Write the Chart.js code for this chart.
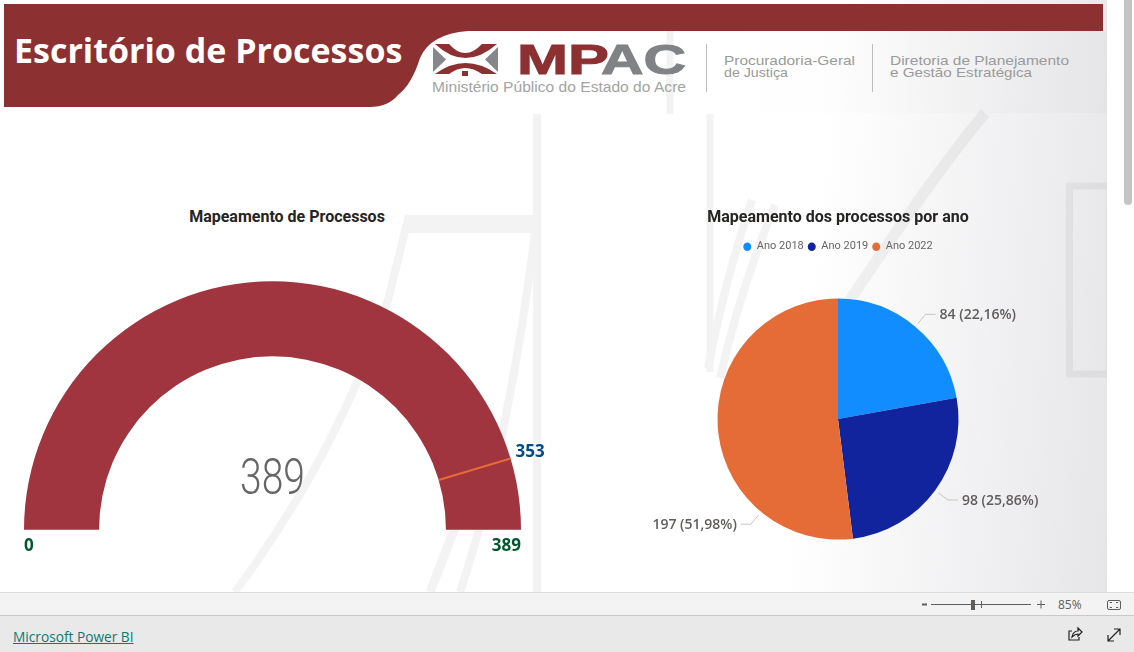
<!DOCTYPE html>
<html lang="pt-BR">
<head>
<meta charset="utf-8">
<title>Escritório de Processos</title>
<script src="https://cdn.jsdelivr.net/npm/chart.js"></script>
<style>
    html, body { margin: 0; padding: 0; width: 1134px; height: 652px; overflow: hidden; background: #fff; font-family: "Open Sans", sans-serif; }
    #report { position: absolute; left: 0; top: 0; width: 1107px; height: 592px; background: linear-gradient(95deg, #fff 72%, #e6e6e9 100%); overflow: hidden; }
    canvas { position: absolute; }
    .abs { position: absolute; }
</style>
</head>
<body>
<div id="report">
    <!-- faint watermark behind the visuals -->
    <svg class="abs" style="left:0;top:0" width="1107" height="592">
        <g fill="none" stroke="#000" opacity="0.045">
            <path d="M405 224 H539" stroke-width="18"/>
            <path d="M409 215 L388 300 Q340 450 235 592" stroke-width="8"/>
            <path d="M537 215 Q525 320 505 420 Q490 500 460 592" stroke-width="8"/>
            <path d="M456 525 L430 592" stroke-width="9"/>
            <path d="M537 114 V592" stroke-width="8"/>
            <path d="M710 114 V372" stroke-width="7"/>
            <path d="M670 30 V114" stroke-width="7"/>
            <path d="M752 200 Q725 280 708 368" stroke-width="8"/>
            <path d="M775 205 Q740 290 720 378" stroke-width="8"/>
            <path d="M985 113 Q930 180 850 300" stroke-width="11"/>
            <rect x="1069.5" y="186" width="40" height="188" stroke-width="7"/>
        </g>
    </svg>
    <div class="abs" style="left:700px;top:31px;width:407px;height:82px;background:linear-gradient(90deg, rgba(0,0,0,0), rgba(0,0,0,0.02))"></div>
    <!-- header band -->
    <svg class="abs" style="left:0;top:0" width="1107" height="112">
        <path d="M4 4 H1103 V31 H468 Q430 34 420 58 Q412 84 398 95 Q388 107 370 107 H4 Z" fill="#8c3032"/>
        <!-- logo -->
        <path d="M433 47 V72 L446 59.5 Z M498 47 V72 L485 59.5 Z" fill="#85878a"/>
        <path d="M435 44 H449 Q465 62 482 44 H497 Q465 72 435 44 Z" fill="#8c3032"/>
        <path d="M435 74 H449 Q465 62 482 74 H497 Q465 52 435 74 Z" fill="#8c3032"/>
        <rect x="462" y="71" width="6" height="5" fill="#8c3032"/>
        <text x="517" y="74" font-family="Liberation Sans" font-weight="700" font-size="42" fill="#8c3032" stroke="#8c3032" stroke-width="1" textLength="92" lengthAdjust="spacingAndGlyphs">MP</text>
        <text x="601" y="74" font-family="Liberation Sans" font-weight="700" font-size="42" fill="#808285" stroke="#808285" stroke-width="1" textLength="85" lengthAdjust="spacingAndGlyphs">AC</text>
        <text x="432" y="92" font-family="Liberation Sans" font-size="14" fill="#a3a3a3" textLength="254" lengthAdjust="spacingAndGlyphs">Ministério Público do Estado do Acre</text>
        <path d="M706.5 44 V92 M872.5 44 V92" stroke="#bdbdbd" stroke-width="1"/>
        <g font-family="Liberation Sans" font-size="13.5" fill="#9a9a9a">
            <text x="724" y="65" textLength="131" lengthAdjust="spacingAndGlyphs">Procuradoria-Geral</text>
            <text x="724" y="77" textLength="64" lengthAdjust="spacingAndGlyphs">de Justiça</text>
            <text x="890" y="65" textLength="179" lengthAdjust="spacingAndGlyphs">Diretoria de Planejamento</text>
            <text x="890" y="77" textLength="142" lengthAdjust="spacingAndGlyphs">e Gestão Estratégica</text>
        </g>
    </svg>
    <div class="abs" style="left:14px;top:27px;color:#fff;font:700 34px 'Open Sans';white-space:nowrap;">Escritório de Processos</div>

    <div class="abs" style="left:0;top:207px;width:574px;text-align:center;color:#252423;font:700 16px Roboto;">Mapeamento de Processos</div>
    <canvas id="gaugeChart" width="574" height="390" style="left:0;top:200px"></canvas>
    <canvas id="pieChart" width="540" height="390" style="left:568px;top:200px"></canvas>
</div>

<!-- scrollbar -->
<div class="abs" style="left:1124px;top:0;width:8px;height:205px;background:#c4c4c4;border-radius:0 0 4px 4px"></div>

<!-- power bi footer -->
<div class="abs" style="left:0;top:592px;width:1134px;height:22px;background:#f3f3f3;border-top:1px solid #dcdcdc;border-bottom:1px solid #c8c8c8;"></div>
<div class="abs" style="left:0;top:616px;width:1134px;height:36px;background:#e9e9e9"></div>
<a class="abs" href="#" style="left:13px;top:627px;color:#0a7a75;font:13.7px 'Open Sans';text-decoration:underline;white-space:nowrap">Microsoft Power BI</a>
<svg class="abs" style="left:900px;top:592px" width="234" height="60">
    <path d="M22 12.5 H27" stroke="#605e5c" stroke-width="2"/>
    <path d="M31 12.5 H131" stroke="#605e5c" stroke-width="1"/>
    <rect x="71" y="8" width="4" height="10" fill="#605e5c"/>
    <path d="M81.5 9 V16" stroke="#605e5c"/>
    <path d="M137 12.5 H145 M141 8.5 V16.5" stroke="#605e5c"/>
    <text x="158" y="17" font-family="Open Sans" font-size="12" fill="#605e5c">85%</text>
    <rect x="207.5" y="8.5" width="13" height="9" rx="1.5" fill="none" stroke="#605e5c"/>
    <path d="M210 11 V10.5 H212 M218 11 V10.5 H216 M210 15 V15.5 H212 M218 15 V15.5 H216" fill="none" stroke="#605e5c"/>
    <path d="M172 39 H169 V48 H179 V45 M172 45 Q173 39 178 39 V36 L182 40 L178 44 V42 Q175 42 172 45 Z" fill="none" stroke="#222" stroke-width="1.2"/>
    <path d="M208 49 L220 37 M214 37 H220 V43 M208 43 V49 H214" fill="none" stroke="#222" stroke-width="1.2"/>
</svg>

<script>
// values
const gaugeValue = [389];
const gaugeMin = [0];
const gaugeMax = [389];
const gaugeTarget = [353];

const pieLabels = ['Ano 2018', 'Ano 2019', 'Ano 2022'];
const pieValues = [84, 98, 197];
const pieColors = ['#118DFF', '#12239E', '#E66C37'];

// where on its slice each leader line starts (0 = start of slice, 1 = end)
const leaderAnchor = [0.5, 0.5, 0.25];

// Gauge texts and the target mark, placed from the arc the library computed
const gaugeDecor = {
    id: 'gaugeDecor',
    afterDatasetsDraw(chart) {
        const ctx = chart.ctx;
        const arc = chart.getDatasetMeta(0).data[0];
        const { x, y, outerRadius, innerRadius } = arc.getProps(['x', 'y', 'outerRadius', 'innerRadius'], true);
        const a = Math.PI + Math.PI * (gaugeTarget[0] - gaugeMin[0]) / (gaugeMax[0] - gaugeMin[0]);

        ctx.save();
        ctx.strokeStyle = '#E66C37';
        ctx.lineWidth = 2;
        ctx.beginPath();
        ctx.moveTo(x + innerRadius * Math.cos(a), y + innerRadius * Math.sin(a));
        ctx.lineTo(x + outerRadius * Math.cos(a), y + outerRadius * Math.sin(a));
        ctx.stroke();

        ctx.textBaseline = 'middle';
        ctx.font = '700 17px "Open Sans"';
        ctx.fillStyle = '#004B87';
        ctx.textAlign = 'left';
        ctx.fillText(String(gaugeTarget[0]), x + outerRadius * Math.cos(a) + 5, y + outerRadius * Math.sin(a) - 6);

        ctx.fillStyle = '#00592E';
        ctx.fillText(String(gaugeMin[0]), x - outerRadius, y + 16);
        ctx.textAlign = 'right';
        ctx.fillText(String(gaugeMax[0]), x + outerRadius, y + 16);

        // centre number is a light condensed face in the original
        ctx.translate(x, y - 48);
        ctx.scale(0.78, 1);
        ctx.textAlign = 'center';
        ctx.font = '300 50px Roboto';
        ctx.fillStyle = '#666666';
        ctx.fillText(String(gaugeValue[0]), 0, 0);
        ctx.restore();
    }
};

// Leader lines and "n (p%)" labels of the pie
const pieDecor = {
    id: 'pieDecor',
    afterDatasetsDraw(chart) {
        const ctx = chart.ctx;
        const total = pieValues.reduce((s, v) => s + v, 0);
        ctx.save();
        ctx.font = '600 14px "Open Sans"';
        ctx.textBaseline = 'middle';
        chart.getDatasetMeta(0).data.forEach((arc, i) => {
            const p = arc.getProps(['x', 'y', 'startAngle', 'endAngle', 'outerRadius'], true);
            const a = p.startAngle + (p.endAngle - p.startAngle) * leaderAnchor[i];
            const x0 = p.x + (p.outerRadius + 4) * Math.cos(a);
            const y0 = p.y + (p.outerRadius + 4) * Math.sin(a);
            const x1 = p.x + (p.outerRadius + 16) * Math.cos(a);
            const y1 = p.y + (p.outerRadius + 16) * Math.sin(a);
            const dir = Math.cos(a) >= 0 ? 1 : -1;
            ctx.strokeStyle = '#c4c4c4';
            ctx.lineWidth = 1;
            ctx.beginPath();
            ctx.moveTo(x0, y0);
            ctx.lineTo(x1, y1);
            ctx.lineTo(x1 + dir * 10, y1);
            ctx.stroke();
            const pct = (pieValues[i] / total * 100).toFixed(2).replace('.', ',');
            ctx.fillStyle = '#605E5C';
            ctx.textAlign = dir > 0 ? 'left' : 'right';
            ctx.fillText(pieValues[i] + ' (' + pct + '%)', x1 + dir * 14, y1 + 1);
        });
        ctx.restore();
    }
};

new Chart(document.getElementById('gaugeChart'), {
    type: 'doughnut',
    data: {
        labels: ['Valor', 'Restante'],
        datasets: [{
            data: [gaugeValue[0] - gaugeMin[0], gaugeMax[0] - gaugeValue[0]],
            backgroundColor: ['#A0343F', '#E6E6E6'],
            borderWidth: 0
        }]
    },
    options: {
        responsive: false,
        animation: false,
        rotation: -90,
        circumference: 180,
        cutout: '69.8%',
        layout: { padding: { left: 24, right: 53, top: 81, bottom: 60 } },
        plugins: {
            legend: { display: false },
            tooltip: { enabled: false }
        }
    },
    plugins: [gaugeDecor]
});

new Chart(document.getElementById('pieChart'), {
    type: 'pie',
    data: {
        labels: pieLabels,
        datasets: [{
            data: pieValues,
            backgroundColor: pieColors,
            borderWidth: 0,
            radius: 120.5
        }]
    },
    options: {
        responsive: false,
        animation: false,
        layout: { padding: { bottom: 14 } },
        plugins: {
            tooltip: { enabled: false },
            title: {
                display: true,
                text: 'Mapeamento dos processos por ano',
                color: '#252423',
                font: { family: 'Roboto', size: 16, weight: 'bold' },
                padding: { top: 8, bottom: 10 }
            },
            legend: {
                position: 'top',
                labels: {
                    usePointStyle: true,
                    pointStyle: 'circle',
                    boxWidth: 8,
                    boxHeight: 6,
                    pointStyleWidth: 8,
                    padding: 4,
                    color: '#666666',
                    font: { family: 'Roboto', size: 11 }
                }
            }
        }
    },
    plugins: [pieDecor]
});
</script>
</body>
</html>
